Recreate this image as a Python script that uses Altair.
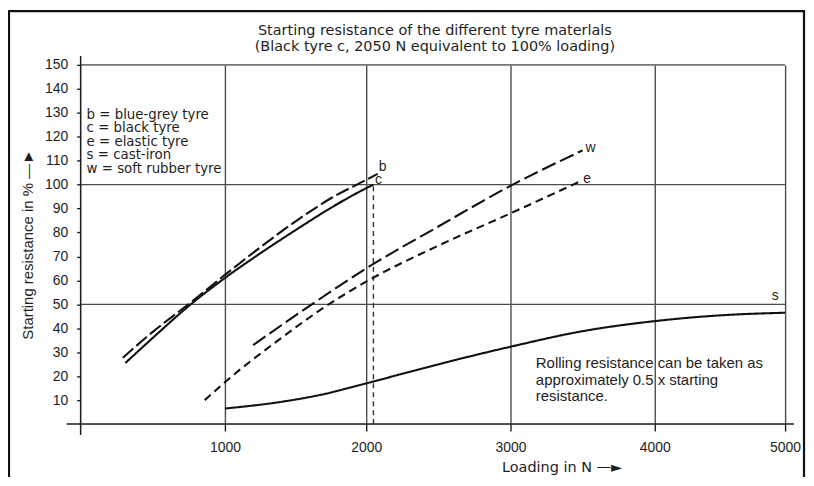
import altair as alt
import pandas as pd

# ---- data ----
codes = ["b", "c", "e", "s", "w"]
names = ["blue-grey tyre", "black tyre", "elastic tyre", "cast-iron", "soft rubber tyre"]

b_x = [292, 500, 763, 1000, 1250, 1521, 1750, 2000, 2080]
b_y = [27.7, 38.5, 50.8, 62.3, 73.8, 85.5, 94.3, 102, 104.5]
c_x = [310, 500, 763, 1000, 1250, 1521, 1750, 2000, 2050]
c_y = [25.5, 36, 50, 61, 71.3, 81.8, 90.3, 98.5, 100]
e_x = [860, 1000, 1400, 1735, 2000, 2500, 3000, 3470]
e_y = [10, 17.5, 36, 50, 59.5, 74.5, 88, 101]
s_x = [1000, 1400, 1700, 2000, 2300, 2600, 3000, 3500, 4000, 4500, 5000]
s_y = [6.5, 9.3, 12.5, 17.0, 21.8, 26.5, 32.3, 38.8, 43, 45.4, 46.5]
w_x = [1200, 1615, 2000, 2500, 3000, 3500]
w_y = [33, 50, 65, 82.5, 99.5, 114.3]

ref_load = [2050]          # black tyre c: 2050 N = 100 %
ref_res = [100]

x_ticks = [1000, 2000, 3000, 4000, 5000]
y_ticks = [10, 20, 30, 40, 50, 60, 70, 80, 90, 100, 110, 120, 130, 140, 150]
grid_y = [50, 100, 150]

title_lines = ["Starting resistance of the different tyre materlals",
               "(Black tyre c, 2050 N equivalent to 100% loading)"]
note_lines = ["Rolling resistance can be taken as",
              "approximately 0.5 x starting",
              "resistance."]

# ---- build tables ----
series = {"b": (b_x, b_y), "c": (c_x, c_y), "e": (e_x, e_y), "s": (s_x, s_y), "w": (w_x, w_y)}
df = pd.concat([pd.DataFrame({"series": k, "load": v[0], "res": v[1]}) for k, v in series.items()],
               ignore_index=True)

legend_lines = [f"{c} = {n}" for c, n in zip(codes, names)]

FONT = "Liberation Sans"
WIDE = "DejaVu Sans"
INK = "#1e1e1e"
W, H = 708, 361

xscale = alt.Scale(domain=[0, 1000, 2000, 3000, 4000, 5000],
                   range=[0, 145, 287, 432, 577, 708], nice=False, zero=False)
yscale = alt.Scale(domain=[0, 150], nice=False, zero=False)

xaxis = alt.Axis(values=x_ticks, format="d", grid=True, gridColor="#4d4d4d", gridWidth=1.4,
                 domain=False, tickSize=7, tickColor=INK, tickWidth=1.4,
                 labelFont=FONT, labelFontSize=14, labelColor=INK, labelPadding=10,
                 labelFlush=False, labelOverlap=False,
                 title="Loading in N —►", titleFont=WIDE, titleFontSize=14.5,
                 titleFontWeight="normal", titleColor=INK, titleX=423, titleY=44,
                 titleAlign="left", titleBaseline="middle")
yaxis = alt.Axis(values=y_ticks, format="d", grid=False, domain=False, tickSize=4, tickColor=INK,
                 tickWidth=1.4, labelFont=FONT, labelFontSize=14, labelColor=INK,
                 labelPadding=9, labelFlush=False, labelOverlap=False,
                 title="Starting resistance in %   —►", titleFont=FONT, titleFontSize=15,
                 titleFontWeight="normal", titleColor=INK, titleAngle=270,
                 titleX=-53.5, titleY=180, titleAlign="center", titleBaseline="middle")

X = alt.X("load:Q", scale=xscale, axis=xaxis)
Y = alt.Y("res:Q", scale=yscale, axis=yaxis)

one = pd.DataFrame({"k": [0]})

frame = alt.Chart(one).mark_rect(filled=False, stroke="#111111", strokeWidth=2.2).encode(
    x=alt.value(-72), x2=alt.value(727), y=alt.value(-54), y2=alt.value(440))

hgrid = alt.Chart(pd.DataFrame({"res": grid_y})).mark_rule(color="#4d4d4d", strokeWidth=1.4).encode(
    y=Y, x=alt.value(0), x2=alt.value(W))

yline = alt.Chart(one).mark_rule(color=INK, strokeWidth=1.5).encode(
    x=alt.value(0), y=alt.value(-9), y2=alt.value(H + 11))
xline = alt.Chart(one).mark_rule(color=INK, strokeWidth=1.5).encode(
    x=alt.value(-14), x2=alt.value(W + 9), y=alt.value(H))

refline = alt.Chart(pd.DataFrame({"load": ref_load, "res0": [0], "res": ref_res})).mark_rule(
    color="#333333", strokeWidth=1.4, strokeDash=[5, 4]).encode(
    x=X, y=alt.Y("res0:Q", scale=yscale, axis=yaxis), y2="res:Q")

dash_range = [[14, 4], [1, 0], [8, 5], [1, 0], [15, 5]]
curves = alt.Chart(df).mark_line(color="#111111", strokeWidth=2.1, interpolate="monotone").encode(
    x=X, y=Y,
    strokeDash=alt.StrokeDash("series:N", scale=alt.Scale(domain=codes, range=dash_range), legend=None),
    detail="series:N")

offsets = {"b": (5, -7), "c": (5, -5), "e": (9, -3), "s": (-10, -17), "w": (8, -2)}
labels = []
for k in codes:
    xs, ys = series[k]
    dx, dy = offsets[k]
    labels.append(
        alt.Chart(pd.DataFrame({"load": [xs[-1]], "res": [ys[-1]], "lab": [k]})).mark_text(
            font=FONT, fontSize=14, color=INK, dx=dx, dy=dy, align="center", baseline="middle"
        ).encode(x=X, y=Y, text="lab:N"))

title_txt = alt.Chart(one).mark_text(
    text=title_lines, font=WIDE, fontSize=14.5, color=INK, align="center", baseline="middle",
    lineHeight=16.5).encode(x=alt.value(356), y=alt.value(-34))

legend_txt = alt.Chart(one).mark_text(
    text=legend_lines, font=WIDE, fontSize=13.4, color=INK, align="left", baseline="middle",
    lineHeight=13.6).encode(x=alt.value(6), y=alt.value(50))

note_txt = alt.Chart(one).mark_text(
    text=note_lines, font=FONT, fontSize=15, color=INK, align="left", baseline="middle",
    lineHeight=16.5).encode(x=alt.value(457.5), y=alt.value(300))

chart = alt.layer(frame, hgrid, yline, xline, refline, curves, *labels,
                  title_txt, legend_txt, note_txt).properties(
    width=W, height=H,
    autosize=alt.AutoSizeParams(type="none"),
    padding={"left": 73, "top": 56, "right": 21, "bottom": 52},
).configure_view(stroke=None).configure(background="white")

chart.save("out.html", embed_options={"renderer": "svg", "actions": False})
